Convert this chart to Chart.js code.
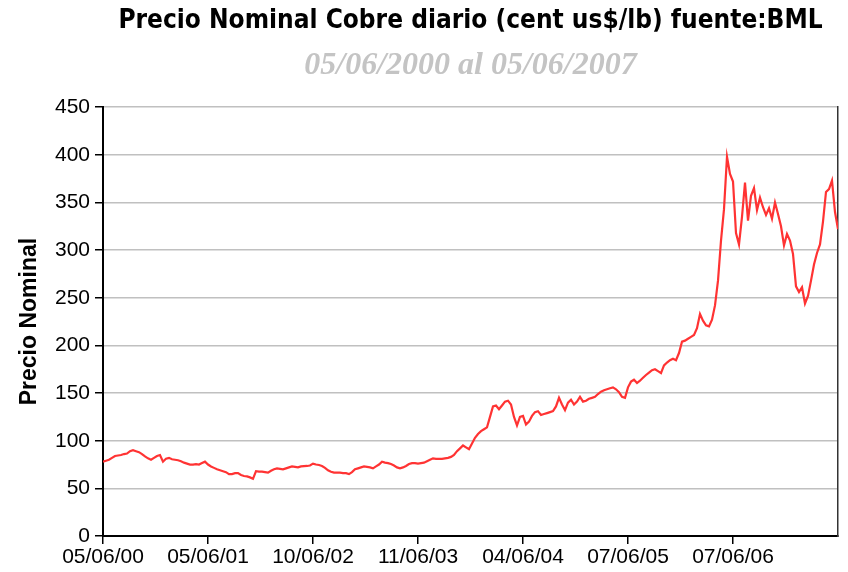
<!DOCTYPE html>
<html>
<head>
<meta charset="utf-8">
<script src="https://cdn.jsdelivr.net/npm/chart.js@4.4.1/dist/chart.umd.min.js"></script>
<style>
    body { margin: 0; background: #fff; }
    #wrap { width: 848px; height: 572px; }
</style>
</head>
<body>
<div id="wrap"><canvas id="cobreChart"></canvas></div>
<script>
    // etiquetas del eje X (una cada 35 puntos)
    const tickLabels = ['05/06/00', '05/06/01', '10/06/02', '11/06/03', '04/06/04', '07/06/05', '07/06/06'];
    const pasoTick = 35;

    // precio nominal (cent us$/lb), un tramo por intervalo del eje
    const tramo1 = [78, 79, 80, 82, 84, 84.5, 85, 86, 86.5, 89, 90, 89, 88, 86, 83.5, 81.5, 80, 82, 84, 85,
                    78, 81, 82, 80.5, 80, 79.5, 78.5, 77, 76, 75, 75, 75.5, 75, 76.5, 78];
    const tramo2 = [75, 73, 71.5, 70, 69, 68, 67, 65, 65, 66, 66, 64, 63, 62.5, 61.5, 60, 68, 67.5, 67.5, 67,
                    66.5, 68.5, 70, 71, 70.5, 70, 71, 72, 73, 72.5, 72, 73, 73.4, 73.5, 74];
    const tramo3 = [76, 75, 74.5, 73.5, 71.5, 69, 67.5, 66.5, 66.5, 66.5, 66, 66, 65, 67, 70, 71, 72, 73, 72.5, 72,
                    71, 73, 75, 78, 77, 76.5, 75.5, 74, 72, 71, 72, 73.5, 75.5, 76.5, 76.5];
    const tramo4 = [76, 76.5, 77, 78.5, 80, 81.5, 81, 81, 81, 81.5, 82, 83, 85, 89, 92, 95, 93, 91, 97, 103,
                    107, 110, 112, 114, 125, 136, 137, 133, 137, 141, 142, 138, 125, 116, 125];
    const tramo5 = [126, 117, 120, 126, 130, 131, 127, 128, 129, 130, 131, 136, 145, 138, 132, 140, 143, 138, 141, 146,
                    141, 142, 144, 145, 146, 149, 151.5, 153, 154, 155, 156, 154, 151, 146, 145];
    const tramo6 = [156, 162, 164, 160.5, 163, 166, 169, 171.5, 174, 175, 173, 171, 179, 182, 184.5, 186, 184.5, 192, 204, 205,
                    207, 209, 211, 218, 233, 226, 221, 220, 227, 242, 268, 310, 343, 398, 380];
    const tramo7 = [372, 318, 306, 335, 371, 331, 357, 365, 342, 355, 345, 337, 344, 333, 350, 338, 325, 305, 317, 310,
                    296, 262, 256, 261, 244, 252, 268, 285, 297, 306, 330, 361, 364, 373, 340, 322];

    const precio = [].concat(tramo1, tramo2, tramo3, tramo4, tramo5, tramo6, tramo7);

    const fuenteTicks = { family: "'Liberation Sans', Arial, sans-serif", size: 21 };

    function initChart() {
        const ctx = document.getElementById('cobreChart').getContext('2d');
        new Chart(ctx, {
            type: 'line',
            data: {
                datasets: [{
                    label: 'Precio Nominal',
                    data: precio.map((v, i) => ({ x: i, y: v })),
                    borderColor: '#ff3333',
                    borderWidth: 2.2,
                    pointRadius: 0,
                    tension: 0,
                    fill: false
                }]
            },
            options: {
                responsive: true,
                maintainAspectRatio: false,
                animation: false,
                layout: { padding: { left: 8, right: 10, top: 0, bottom: 0 } },
                plugins: {
                    legend: { display: false },
                    tooltip: { enabled: false },
                    title: {
                        display: true,
                        fullSize: false,
                        text: 'Precio Nominal Cobre diario (cent us$/lb) fuente:BML',
                        color: '#000',
                        font: { family: "'Liberation Sans Narrow', 'DejaVu Sans Condensed', Arial, sans-serif", size: 26, weight: 'bold', lineHeight: 1.2 },
                        padding: { top: 6, bottom: 13 }
                    },
                    subtitle: {
                        display: true,
                        fullSize: false,
                        text: '05/06/2000 al 05/06/2007',
                        color: '#c4c4c4',
                        font: { family: "'Liberation Serif', 'Times New Roman', serif", size: 32, style: 'italic', weight: 'bold', lineHeight: 1.0 },
                        padding: { top: 0, bottom: 25 }
                    }
                },
                scales: {
                    x: {
                        type: 'linear',
                        min: 0,
                        max: precio.length - 1,
                        grid: {
                            drawOnChartArea: false,
                            drawTicks: true,
                            tickLength: 8,
                            // sin marca en el extremo derecho
                            tickColor: (c) => c.tick && c.tick.value === precio.length - 1 ? 'rgba(0,0,0,0)' : '#000',
                            lineWidth: 1.5
                        },
                        border: { color: '#000', width: 2 },
                        ticks: {
                            stepSize: pasoTick,
                            autoSkip: false,
                            maxRotation: 0,
                            padding: 1,
                            color: '#000',
                            font: fuenteTicks,
                            callback: (v) => tickLabels[v / pasoTick] || ''
                        },
                        afterFit: (s) => { s.height = 36; }
                    },
                    y: {
                        min: 0,
                        max: 450,
                        grid: { color: '#c0c0c0', lineWidth: 1.5, tickLength: 8, tickColor: '#000' },
                        border: { color: '#000', width: 2 },
                        ticks: { stepSize: 50, padding: 5, color: '#000', font: fuenteTicks },
                        title: {
                            display: true,
                            text: 'Precio Nominal',
                            color: '#000',
                            font: { family: "'Liberation Sans', Arial, sans-serif", size: 23, weight: 'bold', lineHeight: 1.2 },
                            padding: { top: 8, bottom: 0 }
                        },
                        afterFit: (s) => { s.width = 95; }
                    },
                    // solo para el borde derecho del area
                    y2: {
                        position: 'right',
                        min: 0,
                        max: 450,
                        grid: { display: false },
                        ticks: { display: false },
                        border: { color: '#333', width: 1.5 },
                        afterFit: (s) => { s.width = 0; }
                    }
                }
            }
        });
    }

    window.onload = initChart;
</script>
</body>
</html>
